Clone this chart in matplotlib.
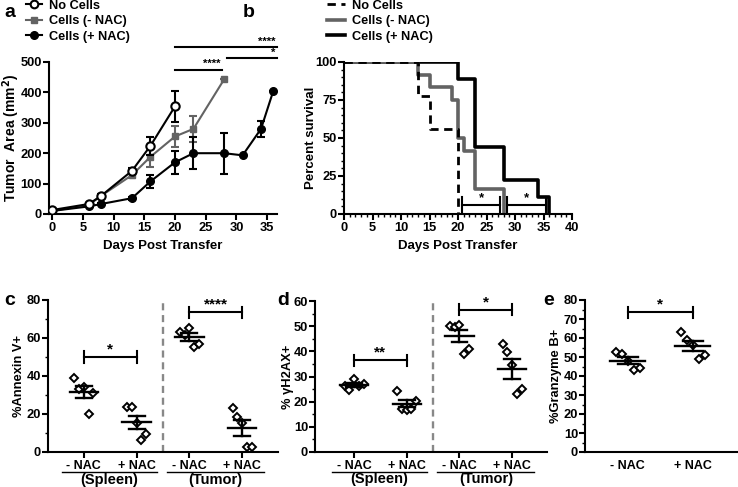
import numpy as np
import matplotlib
matplotlib.use('Agg')
import matplotlib.pyplot as plt
from matplotlib.lines import Line2D
from matplotlib.ticker import MultipleLocator

plt.rcParams['font.family'] = ['Liberation Sans', 'DejaVu Sans']
plt.rcParams['font.weight'] = 'bold'
plt.rcParams['axes.labelweight'] = 'bold'
plt.rcParams['axes.linewidth'] = 1.5
plt.rcParams['xtick.major.width'] = 1.5
plt.rcParams['ytick.major.width'] = 1.5
plt.rcParams['xtick.minor.width'] = 1.0
plt.rcParams['ytick.minor.width'] = 1.0
plt.rcParams['xtick.major.size'] = 4
plt.rcParams['ytick.major.size'] = 4
plt.rcParams['xtick.minor.size'] = 2
plt.rcParams['ytick.minor.size'] = 2
plt.rcParams['xtick.major.pad'] = 2
plt.rcParams['ytick.major.pad'] = 1

GRAY = '#636363'

# ---- panel a: tumor growth ----
days_none = [0, 6, 8, 13, 16, 20]
area_none = [13, 33, 60, 142, 224, 354]
err_none = [4, 4, 5, 8, 29, 52]

days_minus = [0, 6, 8, 13, 16, 20, 23, 28]
area_minus = [10, 30, 60, 128, 188, 255, 280, 443]
err_minus = [3, 4, 5, 10, 33, 35, 42, 0]

days_plus = [0, 6, 8, 13, 16, 20, 23, 28, 31, 34, 36]
area_plus = [10, 25, 33, 52, 107, 170, 200, 200, 193, 280, 405]
err_plus = [3, 3, 4, 5, 21, 38, 52, 67, 0, 26, 0]

# ---- panel b: survival (step curves) ----
surv_t_none = [0, 13, 15, 20]
surv_p_none = [100, 77.8, 55.6, 0]
surv_t_minus = [0, 13, 15, 19, 20, 21, 23, 28]
surv_p_minus = [100, 91.7, 83.3, 75, 50, 41.7, 16.7, 0]
surv_t_plus = [0, 20, 23, 28, 34, 36]
surv_p_plus = [100, 88.9, 44.4, 22.2, 11.1, 0]

# ---- panel c: annexin V ----
cd_labels = ['- NAC', '+ NAC', '- NAC', '+ NAC']
annexin = [
    [39, 33, 34.3, 20, 31],
    [23.5, 23.5, 15.5, 6.5, 9.3],
    [63.3, 61.5, 65.5, 55.4, 56.8],
    [23.2, 18.4, 15.3, 2.6, 2.6],
]
# ---- panel d: gamma H2AX ----
h2ax = [
    [26.1, 24.8, 28.9, 26.1, 27],
    [24.1, 17.2, 16.8, 17.2, 20.3],
    [49.9, 49.7, 50.3, 39, 41],
    [43, 39.9, 34.6, 23, 25],
]
# ---- panel e: granzyme B ----
e_labels = ['- NAC', '+ NAC']
granzyme = [
    [52.7, 51.8, 47.8, 43.4, 44.3],
    [62.9, 59.2, 56.2, 49.2, 51],
]

W, H = 738, 487
fig = plt.figure(figsize=(W / 100, H / 100), dpi=100)


def box(left, right, top, bottom):
    return [left / W, 1 - bottom / H, (right - left) / W, (bottom - top) / H]


def clean(ax, ylab_x):
    ax.spines['top'].set_visible(False)
    ax.spines['right'].set_visible(False)
    ax.tick_params(labelsize=9.3)
    ax.yaxis.set_label_coords(ylab_x, 0.5)


def bracket(ax, x1, x2, y, tick, text, fs=11):
    ax.plot([x1, x2], [y, y], color='black', lw=1.5, clip_on=False)
    for x in (x1, x2):
        ax.plot([x, x], [y - tick, y + tick], color='black', lw=1.5, clip_on=False)
    ax.text((x1 + x2) / 2, y + tick * 0.1, text, ha='center', va='bottom', fontsize=fs)


def dots(ax, groups):
    for i, vals in enumerate(groups):
        vals = np.array(vals)
        off = np.linspace(-0.18, 0.18, len(vals))
        ax.plot(i + off, vals, 'D', ms=4.3, mfc='white', mec='black', mew=1.4,
                ls='none', zorder=3, clip_on=False)
        m = vals.mean()
        s = vals.std(ddof=1) / np.sqrt(len(vals))
        ax.plot([i - 0.27, i + 0.27], [m, m], color='black', lw=1.7, zorder=4)
        ax.plot([i, i], [m - s, m + s], color='black', lw=1.7, zorder=4)
        for y in (m - s, m + s):
            ax.plot([i - 0.15, i + 0.15], [y, y], color='black', lw=1.7, zorder=4)


# panel a
ax = fig.add_axes(box(49, 277, 62, 214))
ax.errorbar(days_none, area_none, yerr=err_none, color='black', lw=1.5, marker='o',
            ms=6, mfc='white', mew=1.5, capsize=3, elinewidth=1.5, capthick=1.5, zorder=3)
ax.errorbar(days_minus, area_minus, yerr=err_minus, color=GRAY, lw=1.5, marker='s',
            ms=5, capsize=3, elinewidth=1.5, capthick=1.5, zorder=2)
ax.errorbar(days_plus, area_plus, yerr=err_plus, color='black', lw=1.5, marker='o',
            ms=5.5, capsize=3, elinewidth=1.5, capthick=1.5, zorder=2)
ax.set_xlim(-0.5, 36.6)
ax.set_ylim(0, 500)
ax.set_xticks(range(0, 36, 5))
ax.set_yticks(range(0, 501, 100))
ax.set_xlabel('Days Post Transfer', fontsize=9.5, labelpad=4)
ax.set_ylabel('Tumor  Area (mm$^{\\mathbf{2}}$)', fontsize=10)
clean(ax, -0.12)
for x1, x2, y in [(20, 36.6, 548), (28.5, 36.6, 512), (20, 27.6, 475)]:
    ax.plot([x1, x2], [y, y], color='black', lw=1.5, clip_on=False)
ax.text(36.4, 551, '****', ha='right', va='bottom', fontsize=8)
ax.text(36.4, 515, '*', ha='right', va='bottom', fontsize=8)
ax.text(27.4, 478, '****', ha='right', va='bottom', fontsize=8)
handles = [
    Line2D([], [], color='black', lw=1.5, marker='o', ms=5.5, mfc='white', mew=1.5),
    Line2D([], [], color=GRAY, lw=1.5, marker='s', ms=5),
    Line2D([], [], color='black', lw=1.5, marker='o', ms=5.5),
]
ax.legend(handles, ['No Cells', 'Cells (- NAC)', 'Cells (+ NAC)'], loc='upper left',
          bbox_to_anchor=(-0.1, 1.41), frameon=False, fontsize=9.2, borderpad=0,
          handlelength=1.2, handletextpad=0.6, labelspacing=0.28, borderaxespad=0)
fig.text(4 / W, 1 - 17 / H, 'a', fontsize=14)

# panel b
ax = fig.add_axes(box(344, 572, 62, 214))
ax.step(surv_t_plus, surv_p_plus, where='post', color='black', lw=2.6, label='Cells (+ NAC)')
ax.step(surv_t_minus, surv_p_minus, where='post', color=GRAY, lw=2.6, label='Cells (- NAC)')
ax.step(surv_t_none, surv_p_none, where='post', color='black', lw=2.0, ls=(0, (3, 2)),
        label='No Cells')
ax.set_xlim(0, 40)
ax.set_ylim(0, 100)
ax.set_xticks(range(0, 41, 5))
ax.set_yticks([0, 25, 50, 75, 100])
ax.xaxis.set_minor_locator(MultipleLocator(1))
ax.yaxis.set_minor_locator(MultipleLocator(5))
ax.set_xlabel('Days Post Transfer', fontsize=9.5, labelpad=4)
ax.set_ylabel('Percent survival', fontsize=9.5)
clean(ax, -0.12)
bracket(ax, 20.7, 27.4, 6, 5, '*', fs=9.5)
bracket(ax, 28.6, 35.5, 6, 5, '*', fs=9.5)
h, l = ax.get_legend_handles_labels()
ax.legend(h[::-1], l[::-1], loc='upper left', bbox_to_anchor=(-0.075, 1.41), frameon=False,
          fontsize=9.2, borderpad=0, handlelength=1.4, handletextpad=0.6, labelspacing=0.28,
          borderaxespad=0)
fig.text(243 / W, 1 - 17 / H, 'b', fontsize=14)


def cd_panel(ax, groups, ymax, major, minor, ylabel, ylab_x):
    dots(ax, groups)
    ax.axvline(1.5, color='#888888', lw=1.7, ls=(0, (3, 2)))
    ax.set_ylim(0, ymax)
    ax.set_yticks(np.arange(0, ymax + 1, major))
    ax.yaxis.set_minor_locator(MultipleLocator(minor))
    ax.set_xticks(range(4))
    ax.set_xticklabels(cd_labels)
    ax.set_ylabel(ylabel, fontsize=9.3)
    clean(ax, ylab_x)
    ax.tick_params(axis='x', length=4, pad=2, labelsize=9)
    tr = ax.get_xaxis_transform()
    for a, b, name in [(-0.42, 1.38, '(Spleen)'), (1.58, 3.42, '(Tumor)')]:
        ax.plot([a, b], [-0.13, -0.13], color='black', lw=1.0, transform=tr, clip_on=False)
        ax.text((a + b) / 2, -0.135, name, transform=tr, ha='center', va='top', fontsize=10.5)


# panel c
ax = fig.add_axes(box(48, 278, 300, 452))
ax.set_xlim(-0.68, 3.68)
cd_panel(ax, annexin, 80, 20, 10, '%Annexin V+', -0.1)
bracket(ax, 0, 1, 50, 3, '*')
bracket(ax, 2, 3, 73.5, 3, '****')
fig.text(4 / W, 1 - 305 / H, 'c', fontsize=14)

# panel d
ax = fig.add_axes(box(315, 547, 301, 452))
ax.set_xlim(-0.74, 3.66)
cd_panel(ax, h2ax, 60, 10, 5, '% γH2AX+', -0.09)
bracket(ax, 0, 1, 36.4, 2.2, '**')
bracket(ax, 2, 3, 56.5, 2.2, '*')
fig.text(277 / W, 1 - 305 / H, 'd', fontsize=14)

# panel e
ax = fig.add_axes(box(585, 737, 300, 452))
dots(ax, granzyme)
ax.set_xlim(-0.66, 1.68)
ax.set_ylim(0, 80)
ax.set_yticks(range(0, 81, 10))
ax.yaxis.set_minor_locator(MultipleLocator(5))
ax.set_xticks([0, 1])
ax.set_xticklabels(e_labels)
ax.set_ylabel('%Granzyme B+', fontsize=9.3)
clean(ax, -0.15)
ax.tick_params(axis='x', length=0, pad=6, labelsize=9)
bracket(ax, 0, 1, 73.5, 3, '*')
fig.text(543 / W, 1 - 305 / H, 'e', fontsize=14)

fig.savefig('out.png', dpi=100)
